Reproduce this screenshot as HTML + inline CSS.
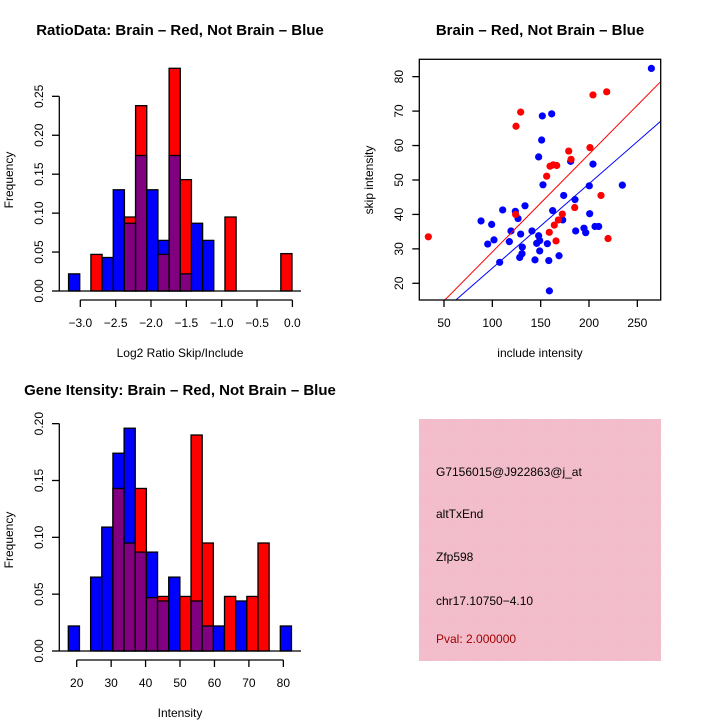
<!DOCTYPE html>
<html><head><meta charset="utf-8"><style>
html,body{margin:0;padding:0;background:#fff}
svg{display:block}
text{font-family:"Liberation Sans",sans-serif}
</style></head><body>
<svg id="c" width="720" height="720" viewBox="0 0 720 720" xmlns="http://www.w3.org/2000/svg">
<defs>
<pattern id="hatch" width="3" height="3" patternUnits="userSpaceOnUse">
<rect width="3" height="3" fill="#f4bccb"/><rect width="1" height="1" fill="#e8c8d0"/>
</pattern>
</defs>
</svg>
<script>
// Ratio histogram data
const ratioBinStart = -3.166;
const ratioBinWidth = 0.158;
const ratioBlue = [0.022,0,0,0.043,0.130,0.087,0.174,0.130,0.065,0.174,0.022,0.087,0.065,0,0,0,0,0,0,0];
const ratioRed  = [0,0,0.047,0,0,0.095,0.238,0,0.047,0.286,0.143,0,0,0,0.095,0,0,0,0,0.048];
const ratioXTicks = [-3.0,-2.5,-2.0,-1.5,-1.0,-0.5,0.0];
const ratioXTickLabels = ["\u22123.0","\u22122.5","\u22122.0","\u22121.5","\u22121.0","\u22120.5","0.0"];
const ratioYTicks = [0,0.05,0.10,0.15,0.20,0.25];
const ratioYTickLabels = ["0.00","0.05","0.10","0.15","0.20","0.25"];
// Intensity histogram data
const intBinStart = 17.56;
const intBinWidth = 3.24;
const intBlue = [0.022,0,0.065,0.109,0.174,0.196,0.087,0.087,0.044,0.065,0,0.044,0.022,0.022,0,0.044,0,0,0,0.022];
const intRed  = [0,0,0,0,0.143,0.095,0.143,0.047,0.048,0,0.048,0.190,0.095,0,0.048,0,0.048,0.095,0,0];
const intXTicks = [20,30,40,50,60,70,80];
const intXTickLabels = ["20","30","40","50","60","70","80"];
const intYTicks = [0,0.05,0.10,0.15,0.20];
const intYTickLabels = ["0.00","0.05","0.10","0.15","0.20"];
// Scatter data
const redX = [33.8,124.5,129.3,204.1,218.3,179,201,181.4,159.7,163,166.6,156.2,124.1,172.4,168.3,164.1,158.9,165.9,185.2,212.4,219.7];
const redY = [33.5,65.6,69.7,74.7,75.6,58.4,59.4,56,54,54.4,54.2,51.1,40,40.1,38.4,36.9,34.8,32.3,42,45.5,33];
const blueX = [264.5,151.7,161.4,151,147.9,181,204.1,152.4,200.3,234.5,173.8,185.5,133.8,110.7,123.8,162.4,200.7,126.6,88.3,99.3,172.8,119.3,141,129.3,147.9,186.2,194.8,196.6,206.2,210,101.7,95.2,117.6,149,145.9,156.9,131,149,130.7,128.3,169,107.6,144.1,158.4,159];
const blueY = [82.4,68.6,69.2,61.6,56.7,55.4,54.6,48.6,48.3,48.5,45.5,44.3,42.5,41.3,40.9,41.1,40.2,38.8,38.1,37.1,38.4,35.2,35.2,34.3,33.8,35.2,36,34.7,36.5,36.5,32.6,31.4,32.1,32.4,31.6,31.5,30.5,29.4,28.6,27.5,28,26.1,26.8,26.6,17.8];
const fitSlope = [0.284,0.245];
const fitIntercept = [0.7,-0.1];
const fitColors = ["#ff0000","#0000ff"];
const scXTicks = [50,100,150,200,250];
const scXTickLabels = ["50","100","150","200","250"];
const scYTicks = [20,30,40,50,60,70,80];
const scYTickLabels = ["20","30","40","50","60","70","80"];

const svg = document.getElementById('c');
const NS = 'http://www.w3.org/2000/svg';
function mk(tag, attrs, parent){const e=document.createElementNS(NS,tag);for(const k in attrs)e.setAttribute(k,attrs[k]);(parent||svg).appendChild(e);return e;}
function txt(s, attrs, parent){const e=mk('text',attrs,parent);e.textContent=s;return e;}

function drawHist(o){
  const g = mk('g',{});
  
  
  const sx = v => o.x0px + (v - o.x0v) * o.xScale;
  const sy = v => o.y0px - v * o.yScale;
  for(let i=0;i<o.blue.length;i++){
    const a = o.binStart + i*o.binWidth, b = a + o.binWidth;
    const bl = o.blue[i], rd = o.red[i];
    const x = sx(a), w = sx(b)-sx(a);
    const mx = Math.max(bl, rd), mn = Math.min(bl, rd);
    if (mx>0){
      const r = mk('rect',{x:x,y:sy(mx),width:w,height:sy(0)-sy(mx),fill: bl>=rd?'#0000ff':'#ff0000',stroke:'#000','stroke-width':1.3},g);
      
      
    }
    if (mn>0){
      const r = mk('rect',{x:x,y:sy(mn),width:w,height:sy(0)-sy(mn),fill:'#800080',stroke:'#000','stroke-width':1.3},g);
      
      
    }
  }
  mk('line',{x1:59,x2:301,y1:sy(0),y2:sy(0),stroke:'#000','stroke-width':1.3},g);
  const ya = mk('g',{},g);
  
  
  const yt = o.yTicks;
  mk('line',{x1:59.3,x2:59.3,y1:sy(yt[0]),y2:sy(yt[yt.length-1]),stroke:'#000','stroke-width':1.3},ya);
  yt.forEach((t,i)=>{
    mk('line',{x1:52,x2:59.3,y1:sy(t),y2:sy(t),stroke:'#000','stroke-width':1.3},ya);
    txt(o.yLabels[i],{x:0,y:0,'font-size':12,'text-anchor':'middle',transform:`translate(43,${sy(t)}) rotate(-90)`},ya);
  });
  const xa = mk('g',{},g);
  
  
  const xt = o.xTicks;
  mk('line',{x1:sx(xt[0]),x2:sx(xt[xt.length-1]),y1:o.xAxisY,y2:o.xAxisY,stroke:'#000','stroke-width':1.3},xa);
  xt.forEach((t,i)=>{
    mk('line',{x1:sx(t),x2:sx(t),y1:o.xAxisY,y2:o.xAxisY+7,stroke:'#000','stroke-width':1.3},xa);
    txt(o.xLabels[i],{x:sx(t),y:o.xAxisY+27,'font-size':12,'text-anchor':'middle'},xa);
  });
  const xl = txt(o.xTitle,{x:180,y:o.xAxisY+57,'font-size':12,'text-anchor':'middle'},g);
  
  
  const yl = txt('Frequency',{x:0,y:0,'font-size':12,'text-anchor':'middle',transform:`translate(13,${o.yTitleY}) rotate(-90)`},g);
  
  
  const tt = txt(o.title,{x:180,y:o.titleY,'font-size':15,'font-weight':'bold','text-anchor':'middle'},g);
  
  
}

drawHist({name:'ratio-histogram',blue:ratioBlue,red:ratioRed,binStart:ratioBinStart,binWidth:ratioBinWidth,
  x0px:80.3,x0v:-3.0,xScale:70.7,y0px:291,yScale:778.7,xAxisY:300,
  xTicks:ratioXTicks,xLabels:ratioXTickLabels,yTicks:ratioYTicks,yLabels:ratioYTickLabels,
  xTitle:'Log2 Ratio Skip/Include',yTitleY:180,title:'RatioData: Brain \u2013 Red, Not Brain \u2013 Blue',titleY:35});
drawHist({name:'intensity-histogram',blue:intBlue,red:intRed,binStart:intBinStart,binWidth:intBinWidth,
  x0px:76.7,x0v:20,xScale:3.444,y0px:651,yScale:1136.7,xAxisY:660,
  xTicks:intXTicks,xLabels:intXTickLabels,yTicks:intYTicks,yLabels:intYTickLabels,
  xTitle:'Intensity',yTitleY:540,title:'Gene Itensity: Brain \u2013 Red, Not Brain \u2013 Blue',titleY:395});

(function(){
  const L=419.3,R=660.7,T=59.3,B=300;
  const sx = v => 444 + (v-50)*0.9667;
  const sy = v => 283.3 - (v-20)*3.444;
  const g = mk('g',{});
  
  
  const cp = mk('clipPath',{id:'scclip'},g);
  mk('rect',{x:L,y:T,width:R-L,height:B-T},cp);
  const pts = mk('g',{},g);
  
  
  blueX.forEach((x,i)=>{
    const c = mk('circle',{cx:sx(x),cy:sy(blueY[i]),r:3.6,fill:'#0000ff'},pts);
    
    
  });
  redX.forEach((x,i)=>{
    const c = mk('circle',{cx:sx(x),cy:sy(redY[i]),r:3.6,fill:'#ff0000'},pts);
    
    
  });
  fitSlope.forEach((m,i)=>{
    const x1=0,x2=300;
    const l = mk('line',{x1:sx(x1),y1:sy(fitIntercept[i]+m*x1),x2:sx(x2),y2:sy(fitIntercept[i]+m*x2),stroke:fitColors[i],'stroke-width':1,'clip-path':'url(#scclip)'},g);
    
    
  });
  mk('rect',{x:L,y:T,width:R-L,height:B-T,fill:'none',stroke:'#000','stroke-width':1.3},g);
  const xa = mk('g',{},g);
  
  
  scXTicks.forEach((t,i)=>{
    mk('line',{x1:sx(t),x2:sx(t),y1:B,y2:B+7,stroke:'#000','stroke-width':1.3},xa);
    txt(scXTickLabels[i],{x:sx(t),y:B+27,'font-size':12,'text-anchor':'middle'},xa);
  });
  const ya = mk('g',{},g);
  
  
  scYTicks.forEach((t,i)=>{
    mk('line',{x1:L-7,x2:L,y1:sy(t),y2:sy(t),stroke:'#000','stroke-width':1.3},ya);
    txt(scYTickLabels[i],{x:0,y:0,'font-size':12,'text-anchor':'middle',transform:`translate(403,${sy(t)}) rotate(-90)`},ya);
  });
  const xl = txt('include intensity',{x:540,y:357,'font-size':12,'text-anchor':'middle'},g);
  
  
  const yl = txt('skip intensity',{x:0,y:0,'font-size':12,'text-anchor':'middle',transform:'translate(373,180) rotate(-90)'},g);
  
  
  const tt = txt('Brain \u2013 Red, Not Brain \u2013 Blue',{x:540,y:35,'font-size':15,'font-weight':'bold','text-anchor':'middle'},g);
  
  
})();

(function(){
  const g = mk('g',{});
  
  
  mk('rect',{x:419,y:419,width:242,height:242,fill:'url(#hatch)'},g);
  const lines = [["G7156015@J922863@j_at",476,'#000','probe-id'],["altTxEnd",518,'#000','event-type'],["Zfp598",561,'#000','gene-name'],["chr17.10750\u22124.10",605,'#000','location'],["Pval: 2.000000",643,'#a00000','p-value']];
  lines.forEach(l=>{
    const t = txt(l[0],{x:436,y:l[1],'font-size':12,style:'fill:'+l[2]},g);
    
    
  });
})();
</script>
</body></html>
